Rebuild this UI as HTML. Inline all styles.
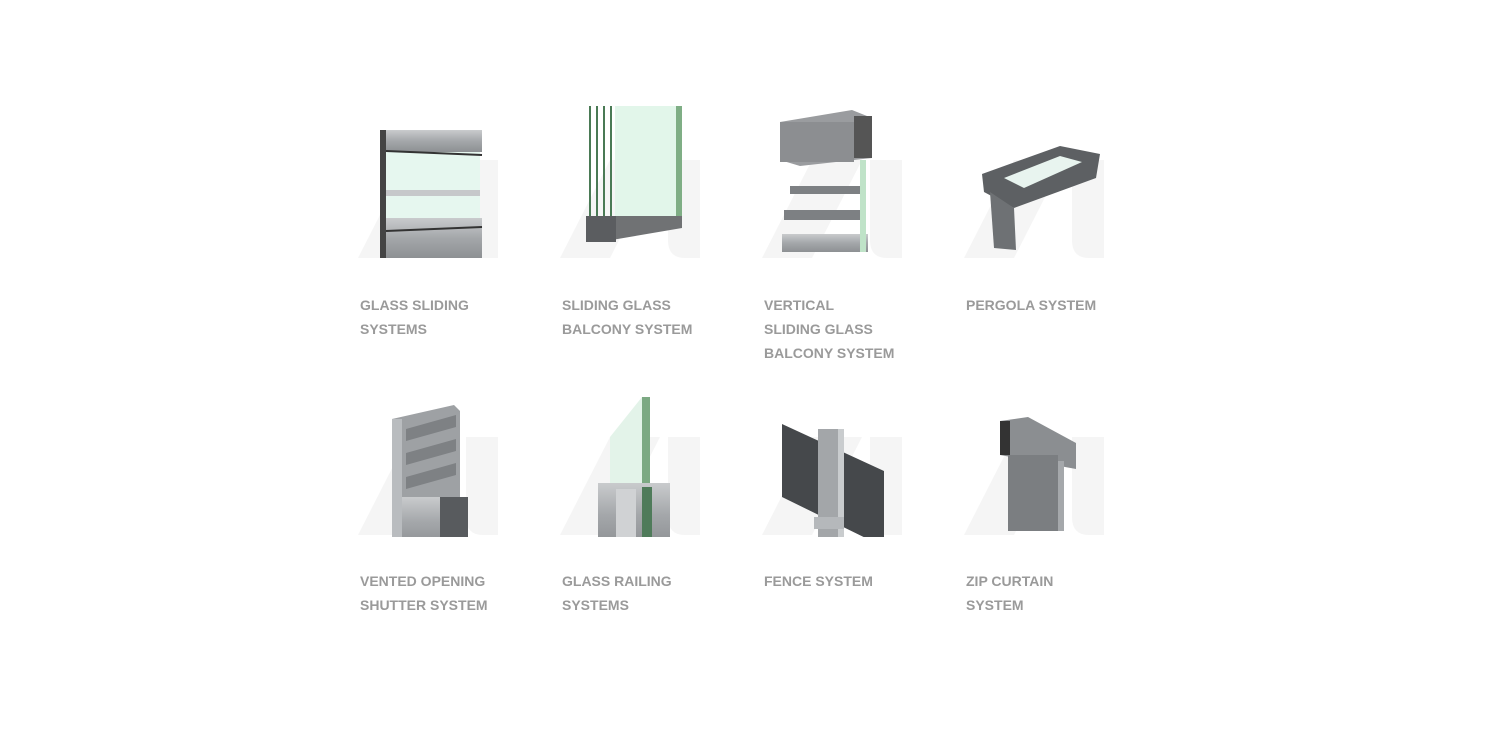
<!DOCTYPE html>
<html><head><meta charset="utf-8"><style>
body{margin:0;width:1500px;height:750px;background:#fff;position:relative;overflow:hidden;font-family:"Liberation Sans",sans-serif}
.c{position:absolute;width:160px;height:160px}
.t{position:absolute;font-weight:bold;font-size:14px;line-height:24px;color:#9a9a9a;letter-spacing:0}
</style></head><body>
<svg width="0" height="0" style="position:absolute"><defs>
<g id="logo"><polygon points="0,158 50,60 100,60 50,158" fill="#f5f5f5"/><path d="M108,60 H140 V158 H125 Q108,158 108,140 Z" fill="#f5f5f5"/></g>
<linearGradient id="al" x1="0" y1="0" x2="0" y2="1"><stop offset="0" stop-color="#c9cbcd"/><stop offset=".5" stop-color="#a4a7aa"/><stop offset="1" stop-color="#8d9093"/></linearGradient>
</defs></svg>

<svg class="c" style="left:358px;top:100px" viewBox="0 0 160 160">
<use href="#logo"/>
<rect x="22" y="30" width="102" height="22" fill="url(#al)"/>
<rect x="26" y="52" width="96" height="42" fill="#e6f7ef"/>
<rect x="26" y="90" width="96" height="6" fill="#c6c8ca"/>
<rect x="26" y="96" width="96" height="24" fill="#e6f7ef"/>
<rect x="22" y="118" width="102" height="40" fill="url(#al)"/>
<rect x="22" y="30" width="6" height="128" fill="#444"/>
<line x1="28" y1="51" x2="124" y2="55" stroke="#333" stroke-width="2"/>
<line x1="28" y1="131" x2="124" y2="127" stroke="#333" stroke-width="2"/>
</svg>
<svg class="c" style="left:560px;top:100px" viewBox="0 0 160 160">
<use href="#logo"/>
<rect x="55" y="6" width="66" height="112" fill="#e2f6ea"/>
<rect x="116" y="6" width="6" height="112" fill="#7fae85"/>
<g stroke="#4a7a55" stroke-width="2"><line x1="30" y1="6" x2="30" y2="118"/><line x1="37" y1="6" x2="37" y2="118"/><line x1="44" y1="6" x2="44" y2="118"/><line x1="51" y1="6" x2="51" y2="118"/></g>
<polygon points="26,116 122,116 122,128 40,142 26,142" fill="#707274"/>
<rect x="26" y="116" width="30" height="26" fill="#5b5d60"/>
</svg>
<svg class="c" style="left:762px;top:100px" viewBox="0 0 160 160">
<use href="#logo"/>
<polygon points="18,22 90,10 110,18 110,58 38,66 18,60" fill="#9a9c9f"/>
<rect x="18" y="22" width="74" height="40" fill="#8c8e91"/>
<rect x="92" y="16" width="18" height="42" fill="#555"/>
<rect x="28" y="86" width="72" height="8" fill="#7d8083"/>
<rect x="22" y="110" width="80" height="10" fill="#7d8083"/>
<rect x="20" y="134" width="86" height="18" fill="url(#al)"/>
<rect x="98" y="60" width="6" height="92" fill="#bfe3c8"/>
</svg>
<svg class="c" style="left:964px;top:100px" viewBox="0 0 160 160">
<use href="#logo"/>
<polygon points="18,74 96,46 136,54 132,78 50,108 20,92" fill="#5d6063"/>
<polygon points="40,78 96,56 118,62 60,88" fill="#e8f4ef"/>
<polygon points="26,92 50,108 52,150 30,148" fill="#6e7174"/>
</svg>

<svg class="c" style="left:358px;top:377px" viewBox="0 0 160 160">
<use href="#logo"/>
<polygon points="34,42 96,28 102,34 102,170 34,170" fill="#9ea1a4"/>
<g fill="#7e8184"><polygon points="48,52 98,38 98,50 48,64"/><polygon points="48,76 98,62 98,74 48,88"/><polygon points="48,100 98,86 98,98 48,112"/></g>
<rect x="34" y="120" width="76" height="50" fill="url(#al)"/>
<rect x="82" y="120" width="28" height="50" fill="#585b5e"/>
<rect x="34" y="42" width="10" height="128" fill="#b9bcbf"/>
</svg>
<svg class="c" style="left:560px;top:377px" viewBox="0 0 160 160">
<use href="#logo"/>
<polygon points="50,60 82,20 90,20 90,110 50,120" fill="#e3f3e9"/>
<rect x="82" y="20" width="8" height="90" fill="#7ca983"/>
<rect x="38" y="106" width="72" height="64" fill="url(#al)"/>
<rect x="56" y="112" width="20" height="50" fill="#d0d2d4"/>
<rect x="82" y="110" width="10" height="60" fill="#4f7b5a"/>
</svg>
<svg class="c" style="left:762px;top:377px" viewBox="0 0 160 160">
<use href="#logo"/>
<polygon points="20,47 122,94 122,170 20,120" fill="#45484b"/>
<rect x="56" y="52" width="26" height="110" fill="#a3a6a9"/>
<rect x="76" y="52" width="6" height="110" fill="#c9ccce"/>
<rect x="52" y="140" width="30" height="12" fill="#b5b8bb"/>
</svg>
<svg class="c" style="left:964px;top:377px" viewBox="0 0 160 160">
<use href="#logo"/>
<polygon points="36,44 64,40 112,66 112,92 36,78" fill="#8b8e91"/>
<rect x="36" y="44" width="10" height="34" fill="#333"/>
<rect x="44" y="78" width="50" height="76" fill="#7b7e81"/>
<rect x="94" y="84" width="6" height="70" fill="#a5a8ab"/>
</svg>

<div class="t" style="left:360px;top:293px">GLASS SLIDING<br>SYSTEMS</div>
<div class="t" style="left:562px;top:293px">SLIDING GLASS<br>BALCONY SYSTEM</div>
<div class="t" style="left:764px;top:293px">VERTICAL<br>SLIDING GLASS<br>BALCONY SYSTEM</div>
<div class="t" style="left:966px;top:293px">PERGOLA SYSTEM</div>
<div class="t" style="left:360px;top:569px">VENTED OPENING<br>SHUTTER SYSTEM</div>
<div class="t" style="left:562px;top:569px">GLASS RAILING<br>SYSTEMS</div>
<div class="t" style="left:764px;top:569px">FENCE SYSTEM</div>
<div class="t" style="left:966px;top:569px">ZIP CURTAIN<br>SYSTEM</div>
</body></html>
